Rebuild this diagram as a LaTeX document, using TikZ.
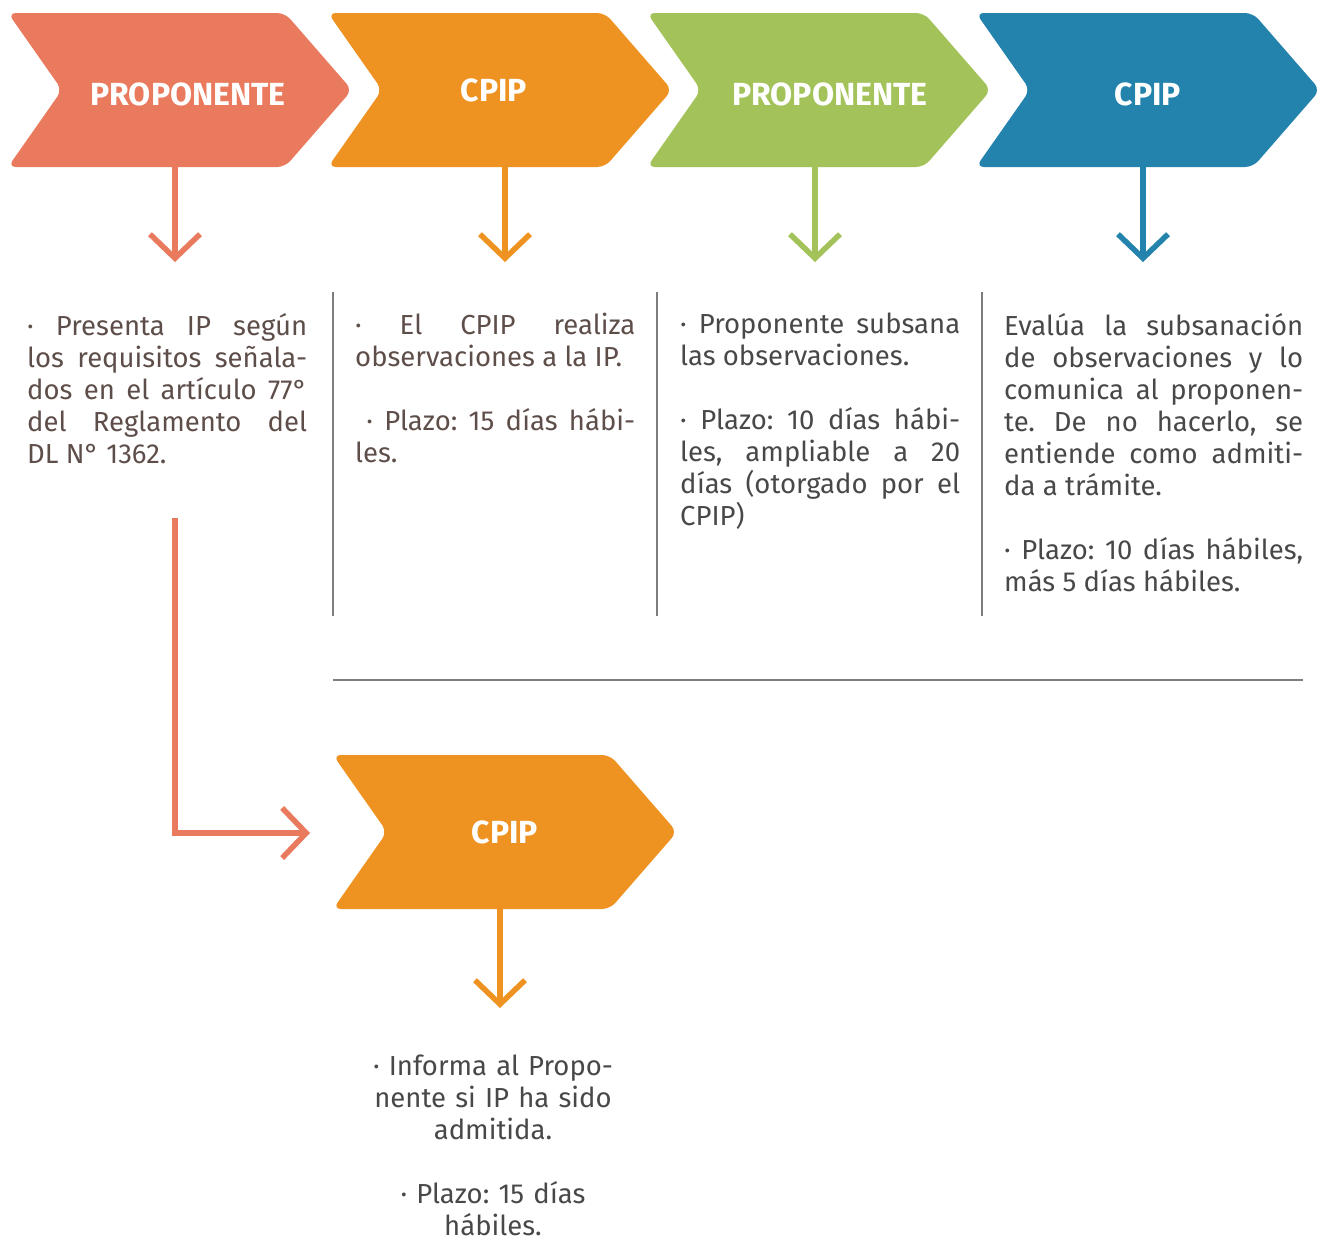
\documentclass[tikz,border=0pt]{standalone}
\usepackage{fontspec}
\setmainfont{Fira Sans}
\frenchspacing
\usetikzlibrary{arrows.meta}
\definecolor{salmon}{RGB}{233,122,93}
\definecolor{naranja}{RGB}{238,147,34}
\definecolor{verde}{RGB}{163,195,90}
\definecolor{azul}{RGB}{35,131,172}
\definecolor{cafe}{RGB}{94,78,74}
\definecolor{gris}{RGB}{72,72,72}
\definecolor{linea}{RGB}{125,125,125}
\tikzset{chev/.style={rectangle,draw=none,minimum width=344pt,minimum height=154pt,inner sep=0pt,
  text=white,font=\bfseries\fontsize{32}{38}\selectfont,
  path picture={\fill[#1,rounded corners=8pt] (path picture bounding box.north west)
    -- ++(277pt,0pt) -- ++(67pt,-77pt) -- ++(-67pt,-77pt) -- ++(-277pt,0pt) -- ++(54pt,77pt) -- cycle;}}}
\tikzset{flecha/.style={line width=5.5pt,-{Straight Barb[length=24pt,width=50pt]}}}
\tikzset{txt/.style={anchor=north west,inner sep=0pt,align=justify,font=\fontsize{27.5}{32}\selectfont}}
\tikzset{sep/.style={draw=linea,line width=1.3pt}}
\newcommand{\bajar}[1]{\raisebox{-4pt}[\height][\depth]{#1}}

\begin{document}
\begin{tikzpicture}[x=1pt,y=-1pt]
  \useasboundingbox (0,0) rectangle (1322,1240);
  \node[chev=salmon] (c1) at (180,90) {\bajar{\hspace*{16pt}PROPONENTE}};
  \node[chev=naranja] (c2) at (500,90) {\hspace*{-12pt}CPIP};
  \node[chev=verde] (c3) at (819,90) {\bajar{\hspace*{22pt}PROPONENTE}};
  \node[chev=azul] (c4) at (1148,90) {\bajar{CPIP}};
  \node[chev=naranja] (c5) at (505,832) {CPIP};

  \coordinate (a1) at (175,262);
  \coordinate (a2) at (505,262);
  \coordinate (a3) at (815,262);
  \coordinate (a4) at (1143,262);
  \coordinate (a5) at (500,1008);
  \coordinate (s5) at (175,518);
  \coordinate (e5) at (310,833);
  \draw[flecha,salmon] (c1.south -| a1) -- (a1);
  \draw[flecha,naranja] (c2.south -| a2) -- (a2);
  \draw[flecha,verde] (c3.south -| a3) -- (a3);
  \draw[flecha,azul] (c4.south -| a4) -- (a4);
  \draw[flecha,naranja] (c5.south -| a5) -- (a5);
  \draw[flecha,salmon] (s5) |- (e5);

  \draw[sep] (333,292) -- (333,616);
  \draw[sep] (657,292) -- (657,616);
  \draw[sep] (982,292) -- (982,616);
  \draw[sep] (333,680) -- (1303,680);

  \node[txt,text=cafe,text width=280pt] (t1) at (27,313)
    {· Presenta IP según\linebreak los requisitos señala-\linebreak dos en el artículo 77°\linebreak del Reglamento del\linebreak DL N° 1362.};
  \node[txt,text=cafe,text width=280pt] (t2) at (355,313)
    {· El CPIP realiza\linebreak observaciones a la IP.\par\vspace{32pt}
     \ · Plazo: 15 días hábi-\linebreak les.};
  \node[txt,text=gris,text width=280pt] (t3) at (680,313)
    {· Proponente subsana\linebreak las observaciones.\par\vspace{32pt}
     · Plazo: 10 días hábi-\linebreak les, ampliable a 20\linebreak días (otorgado por el\linebreak CPIP)};
  \node[txt,text=gris,text width=299pt] (t4) at (1004,313)
    {Evalúa la subsanación\linebreak de observaciones y lo\linebreak comunica al proponen-\linebreak te. De no hacerlo, se\linebreak entiende como admiti-\linebreak da a trámite.\par\vspace{32pt}
     · Plazo: 10 días hábiles,\linebreak más 5 días hábiles.};
  \node[txt,anchor=north,align=center,text=gris,text width=280pt] (t5) at (493,1055)
    {· Informa al Propo-\\nente si IP ha sido\\admitida.\\[32pt]· Plazo: 15 días\\hábiles.};
\end{tikzpicture}
\end{document}
